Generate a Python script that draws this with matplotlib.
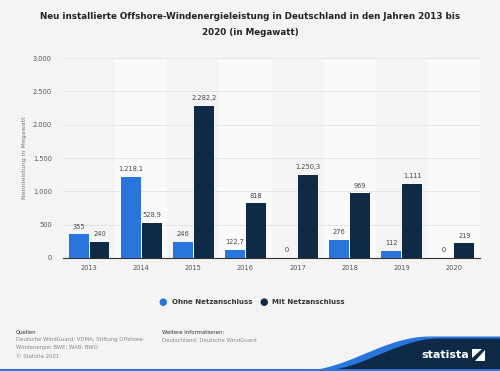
import matplotlib
matplotlib.use("Agg")
import matplotlib.pyplot as plt
import numpy as np
from matplotlib.patches import Polygon, Rectangle

years = ["2013", "2014", "2015", "2016", "2017", "2018", "2019", "2020"]
ohne_netz = [355, 1218.1, 246, 122.7, 0, 276, 112, 0]
mit_netz = [240, 528.9, 2282.2, 818, 1250.3, 969, 1111, 219]
y_ticks = [0, 500, 1000, 1500, 2000, 2500, 3000]

blue = "#2876dd"
navy = "#0f2a46"
bg = "#f4f4f4"


def de_fmt(v):
    if float(v).is_integer():
        s = f"{int(v):,}".replace(",", ".")
    else:
        s = f"{v:,.1f}".replace(",", "X").replace(".", ",").replace("X", ".")
    return s


fig = plt.figure(figsize=(5, 3.71), dpi=100, facecolor=bg)
ax = fig.add_axes([0.126, 0.3046, 0.834, 0.539])
ax.set_facecolor(bg)

x = np.arange(len(years))
# lighter column bands
for i in x:
    if i % 2 == 1:
        ax.axvspan(i - 0.5, i + 0.5, color="#fafafa", zorder=0, lw=0)

w = 0.38
b1 = ax.bar(x - 0.2, ohne_netz, w, color=blue, zorder=3)
b2 = ax.bar(x + 0.2, mit_netz, w, color=navy, zorder=3)

for bars, vals in ((b1, ohne_netz), (b2, mit_netz)):
    for r, v in zip(bars, vals):
        ax.text(r.get_x() + r.get_width() / 2, v + 70, de_fmt(v),
                ha="center", va="bottom", fontsize=4.8, color="#444444", zorder=4)

ax.set_xlim(-0.5, len(years) - 0.5)
ax.set_ylim(0, 3000)
ax.set_yticks(y_ticks)
ax.set_yticklabels([de_fmt(t) for t in y_ticks])
ax.set_xticks(x)
ax.set_xticklabels(years)
ax.tick_params(axis="both", length=0, labelsize=4.8, labelcolor="#555555")
ax.tick_params(axis="y", pad=8)
ax.tick_params(axis="x", pad=5)
ax.grid(axis="y", color="#e2e2e2", lw=0.6, zorder=1)
for s in ["top", "right", "left"]:
    ax.spines[s].set_visible(False)
ax.spines["bottom"].set_color("#333333")
ax.spines["bottom"].set_linewidth(0.8)
ax.set_ylabel("Nennleistung in Megawatt", fontsize=4.5, color="#777777", labelpad=4)

fig.text(0.5, 0.968, "Neu installierte Offshore-Windenergieleistung in Deutschland in den Jahren 2013 bis\n2020 (in Megawatt)",
         ha="center", va="top", fontsize=6.3, fontweight="bold", color="#222222", linespacing=2.0)

# legend
leg_y = 1 - 302 / 371
fig.text(0.326, leg_y, "●", color=blue, fontsize=7, ha="center", va="center")
fig.text(0.344, leg_y, "Ohne Netzanschluss", fontsize=5.0, fontweight="bold", color="#333333", va="center")
fig.text(0.528, leg_y, "●", color=navy, fontsize=7, ha="center", va="center")
fig.text(0.544, leg_y, "Mit Netzanschluss", fontsize=5.0, fontweight="bold", color="#333333", va="center")

# footer
fig.text(0.032, 1 - 332 / 371, "Quellen", fontsize=3.9, color="#333333", va="center")
fig.text(0.032, 1 - 337.5 / 371, "Deutsche WindGuard; VDMA; Stiftung Offshore-\nWindenergie; BWE; WAB; BWO\n© Statista 2021",
         fontsize=3.9, color="#888888", va="top", linespacing=1.75)
fig.text(0.324, 1 - 332 / 371, "Weitere Informationen:", fontsize=3.9, color="#333333", va="center")
fig.text(0.324, 1 - 337.5 / 371, "Deutschland; Deutsche WindGuard", fontsize=3.9, color="#888888", va="top")

# statista logo area
ov = fig.add_axes([0, 0, 1, 1], facecolor="none")
ov.set_xlim(0, 500)
ov.set_ylim(371, 0)
ov.axis("off")


def wave(x0, x1, ytop, n=60):
    xs = np.linspace(x0, x1, n)
    t = (xs - x0) / (x1 - x0)
    ys = 371 - (371 - ytop) * (1 - np.cos(np.pi * t)) / 2
    return np.column_stack([np.concatenate([xs, [500, 500]]), np.concatenate([ys, [ytop, 371]])])


ov.add_patch(Polygon(wave(300, 430, 336.5), closed=True, color=blue, lw=0))
ov.add_patch(Polygon(wave(318, 440, 338.5), closed=True, color=navy, lw=0))
ov.add_patch(Rectangle((0, 369), 500, 2, color=blue, lw=0))
ov.text(445, 355, "statista", fontsize=8, fontweight="bold", color="white", ha="center", va="center")
ov.add_patch(Polygon([[472, 361], [485, 361], [485, 349], [472, 349]], closed=True, color="white", lw=0))
ov.add_patch(Polygon([[472, 358], [482, 349], [485, 349], [485, 350], [475, 361], [472, 361]], closed=True, color=navy, lw=0))

fig.savefig("out.png", dpi=100, facecolor=bg)
